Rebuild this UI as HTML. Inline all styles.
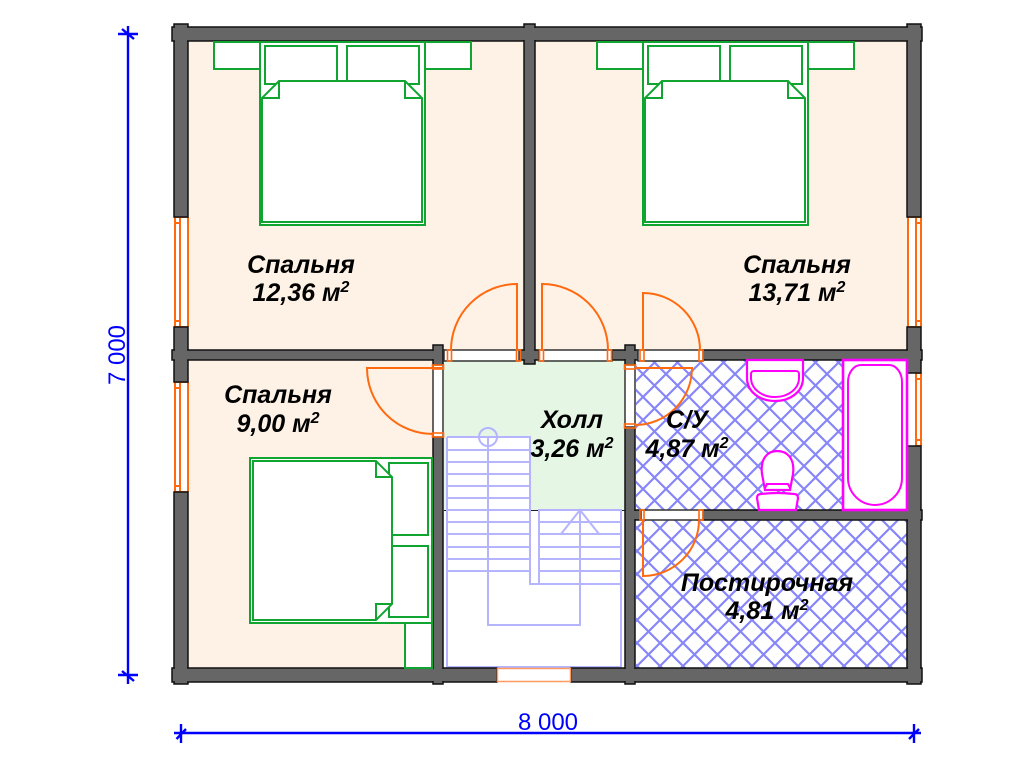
<!DOCTYPE html>
<html><head><meta charset="utf-8"><style>
html,body{margin:0;padding:0;background:#fff}
svg{display:block}
text{font-family:"Liberation Sans",sans-serif}
.l{font-weight:bold;font-style:italic;font-size:25px;fill:#000;text-anchor:middle}
.s{font-size:16px}
.w{fill:#666;stroke:#111;stroke-width:1.5}
.o{fill:none;stroke:#ff6a10;stroke-width:2}
.j{fill:none;stroke:#ff6a10;stroke-width:1.6}
.g{fill:#fff;stroke:#10a530;stroke-width:2}
.g1{fill:none;stroke:#10a530;stroke-width:2}
.m{fill:#fff;stroke:#ff00ff;stroke-width:2.2}
.m1{fill:none;stroke:#ff00ff;stroke-width:2}
.st{fill:none;stroke:#b4b4ff;stroke-width:2}
.d{stroke:#0000ff;stroke-width:2.4;fill:none}
.t{fill:#0000ff;font-size:24px;text-anchor:middle}
.op{fill:#fff;stroke:#333;stroke-width:1.5}
</style></head><body>
<svg width="1024" height="768" viewBox="0 0 1024 768" xmlns="http://www.w3.org/2000/svg">
<defs>
<pattern id="h" width="23" height="23" patternUnits="userSpaceOnUse" x="827" y="374">
<path d="M-3 -3L26 26M26 -3L-3 26M-3 3L3 -3M20 26L26 20M20 -3L26 3M-3 20L3 26" stroke="#8686f8" stroke-width="2.2" fill="none"/>
</pattern>
<pattern id="h2" width="23" height="23" patternUnits="userSpaceOnUse" x="660" y="643">
<path d="M-3 -3L26 26M26 -3L-3 26M-3 3L3 -3M20 26L26 20M20 -3L26 3M-3 20L3 26" stroke="#8686f8" stroke-width="2.2" fill="none"/>
</pattern>
</defs>
<rect width="1024" height="768" fill="#fff"/>

<!-- rooms -->
<rect x="188" y="41" width="336" height="309" fill="#fef2e6"/>
<rect x="535" y="41" width="372" height="309" fill="#fef2e6"/>
<rect x="188" y="360" width="245" height="308" fill="#fef2e6"/>
<rect x="444" y="360" width="181" height="150" fill="#e5f6e5"/>
<rect x="444" y="510" width="181" height="158" fill="#fff"/>
<rect x="636" y="360" width="271" height="150" fill="#fff"/>
<rect x="636" y="360" width="271" height="150" fill="url(#h)"/>
<rect x="636" y="520" width="271" height="148" fill="#fff"/>
<rect x="636" y="520" width="271" height="148" fill="url(#h2)"/>

<!-- stairs -->
<rect x="447" y="437" width="83" height="74" fill="#fff"/>
<rect x="447" y="510" width="174" height="157" fill="#fff"/>
<line x1="444" y1="510.500" x2="625" y2="510.500" stroke="#222" stroke-width="1"/>
<g class="st">
<path d="M447 437H530V584H621M447 437V667H621V510H539V584"/>
<path d="M447 450H530M447 462H530M447 474H530M447 486H530M447 498H530M447 510H530M447 522H530M447 534H530M447 547H530M447 559H530M447 571H530"/>
<path d="M539 522H621M539 534H621M539 547H621M539 559H621M539 571H621"/>
<circle cx="488" cy="437" r="9"/>
<path d="M488 437V625H580V510M561 534L580 510L599 534"/>
</g>

<!-- windows -->
<rect x="174" y="217" width="14" height="110" fill="#fff"/>
<rect x="174" y="382" width="14" height="110" fill="#fff"/>
<rect x="907" y="217" width="14" height="110" fill="#fff"/>
<rect x="907" y="373" width="14" height="73" fill="#fff"/>
<path class="o" d="M175 217V327M180 217V327M188 217V327M174 217H188M174 327H188M174 223H180M174 321H180"/>
<path class="o" d="M175 382V492M180 382V492M188 382V492M174 382H188M174 492H188M174 388H180M174 486H180"/>
<path class="o" d="M908 217V327M916 217V327M921 217V327M907 217H921M907 327H921M916 223H921M916 321H921"/>
<path class="o" d="M916 373V446M921 373V446M915 373H921M915 446H921M916 379H921M916 440H921"/>

<!-- walls -->
<rect class="w" x="174" y="24" width="14" height="193"/>
<rect class="w" x="907" y="24" width="14" height="193"/>
<rect class="w" x="174" y="327" width="14" height="55"/>
<rect class="w" x="907" y="327" width="14" height="46"/>
<rect class="w" x="174" y="492" width="14" height="192"/>
<rect class="w" x="907" y="446" width="14" height="238"/>
<rect class="w" x="172" y="27" width="750" height="14"/>
<rect class="w" x="172" y="668" width="325" height="14"/>
<rect class="w" x="571" y="668" width="351" height="14"/>
<rect class="w" x="172" y="350" width="272" height="10"/>
<rect class="w" x="612" y="350" width="26" height="10"/>
<rect class="w" x="703" y="350" width="219" height="10"/>
<rect class="w" x="630" y="510" width="11" height="10"/>
<rect class="w" x="703" y="510" width="219" height="10"/>
<rect class="w" x="524" y="24" width="11" height="340"/>
<rect class="w" x="519" y="350" width="20" height="10"/>
<rect class="w" x="433" y="345" width="10" height="20"/>
<rect class="w" x="625" y="345" width="10" height="20"/>
<rect class="w" x="433" y="437" width="10" height="247"/>
<rect class="w" x="625" y="427" width="10" height="257"/>

<!-- wall fills to hide inner joints -->
<g fill="#666">
<rect x="175" y="28" width="745" height="12"/>
<rect x="175" y="25" width="12" height="191"/>
<rect x="908" y="25" width="12" height="191"/>
<rect x="525" y="25" width="9" height="338"/>
<rect x="175" y="351" width="267" height="8"/>
<rect x="175" y="328" width="12" height="53"/>
<rect x="908" y="328" width="12" height="44"/>
<rect x="908" y="351" width="13" height="8"/>
<rect x="908" y="511" width="13" height="8"/>
<rect x="175" y="669" width="321" height="12"/>
<rect x="572" y="669" width="349" height="12"/>
<rect x="175" y="493" width="12" height="190"/>
<rect x="908" y="447" width="12" height="236"/>
<rect x="520" y="351" width="18" height="8"/>
<rect x="434" y="346" width="8" height="18"/>
<rect x="626" y="346" width="8" height="18"/>
<rect x="613" y="351" width="24" height="8"/>
<rect x="434" y="438" width="8" height="245"/>
<rect x="626" y="428" width="8" height="255"/>
<rect x="626" y="511" width="14" height="8"/>
</g>

<!-- furniture green (over walls edge) -->
<rect class="g" x="214" y="42" width="46" height="27"/>
<rect class="g" x="425" y="42" width="46" height="27"/>
<rect class="g" x="260" y="42" width="165" height="183"/>
<rect class="g" x="265" y="46" width="72" height="38"/>
<rect class="g" x="347" y="46" width="72" height="38"/>
<path class="g" d="M279 81H405L422 98V222H262V98Z"/>
<path class="g1" d="M262 98H279V81M422 98H405V81"/>
<rect class="g" x="597" y="42" width="46" height="27"/>
<rect class="g" x="808" y="42" width="46" height="27"/>
<rect class="g" x="643" y="42" width="165" height="183"/>
<rect class="g" x="648" y="46" width="72" height="38"/>
<rect class="g" x="730" y="46" width="72" height="38"/>
<path class="g" d="M662 81H788L805 98V222H645V98Z"/>
<path class="g1" d="M645 98H662V81M805 98H788V81"/>
<rect class="g" x="250" y="458" width="182" height="165"/>
<rect class="g" x="405" y="623" width="27" height="45"/>
<rect class="g" x="389" y="463" width="39" height="72"/>
<rect class="g" x="389" y="546" width="39" height="71"/>
<path class="g" d="M253 461H376L392 477V604L376 620H253Z"/>
<path class="g1" d="M376 461V477H392M376 620V604H392"/>

<!-- sanitary -->
<rect class="m" x="843" y="360" width="64" height="150" stroke-width="2.600" style="stroke-width:2.600"/>
<path class="m1" d="M848 382a13 17 0 0 1 13-17H889a13 17 0 0 1 13 17V478a27 27 0 0 1-54 0Z"/>
<path class="m" d="M747 360H803V378C803 392 790 401 775 401C760 401 747 392 747 378Z"/>
<path class="m1" d="M751 374a3 3 0 0 1 3-3H796a3 3 0 0 1 3 3V378C799 389 788 397 775 397C762 397 751 389 751 378Z"/>
<path class="m" d="M765 490L762 474C760 458 768 451 777 451C787 451 795 458 793 474L790 490Z"/>
<path class="m1" d="M765 488L767 484H788L790 488"/>
<path class="m" d="M759 510L757 498Q757 494 761 494Q777 492 794 494Q798 494 798 498L796 510Z"/>

<!-- door openings -->
<rect class="op" x="444" y="350" width="75" height="11"/>
<rect class="op" x="539" y="350" width="73" height="11"/>
<rect class="op" x="638" y="350" width="65" height="11"/>
<rect class="op" x="641" y="510" width="62" height="10"/>
<rect class="op" x="433" y="365" width="10" height="72"/>
<rect class="op" x="625" y="365" width="10" height="62"/>
<g class="o">
<path d="M517 350V284A66 66 0 0 0 451 350"/>
<path d="M542 350V284A66 66 0 0 1 608 350"/>
<path d="M643 350V293A57 57 0 0 1 700 350"/>
<path d="M443 368H367A66 66 0 0 0 433 434"/>
<path d="M636 368H692A57 57 0 0 1 636 425"/>
<path d="M643 520V576A56 56 0 0 0 699 520"/>
</g>
<g class="j">
<rect x="447.500" y="350" width="4" height="11"/>
<rect x="516.500" y="350" width="4" height="11"/>
<rect x="539.500" y="350" width="4" height="11"/>
<rect x="607.500" y="350" width="4" height="11"/>
<rect x="640" y="350" width="4" height="11"/>
<rect x="699" y="350" width="4" height="11"/>
<rect x="640" y="510" width="4" height="10"/>
<rect x="699" y="510" width="4" height="10"/>
<rect x="432.500" y="365" width="11" height="4"/>
<rect x="432.500" y="433" width="11" height="4"/>
<rect x="624.500" y="365" width="11" height="4"/>
<rect x="624.500" y="424" width="11" height="4"/>
</g>
<rect x="497" y="668" width="74" height="14" fill="#fff"/>
<path d="M497 668.500H571M497 681.500H571M497.500 668V682M570.500 668V682" fill="none" stroke="#ff9a60" stroke-width="1.500"/>

<!-- labels -->
<text class="l" x="301" y="273">Спальня</text>
<text class="l" x="301" y="301">12,36 м<tspan class="s" dy="-9">2</tspan></text>
<text class="l" x="797" y="273">Спальня</text>
<text class="l" x="797" y="301">13,71 м<tspan class="s" dy="-9">2</tspan></text>
<text class="l" x="278" y="403">Спальня</text>
<text class="l" x="278" y="432">9,00 м<tspan class="s" dy="-9">2</tspan></text>
<text class="l" x="572" y="428">Холл</text>
<text class="l" x="572" y="457">3,26 м<tspan class="s" dy="-9">2</tspan></text>
<text class="l" x="687" y="428">С/У</text>
<text class="l" x="687" y="457">4,87 м<tspan class="s" dy="-9">2</tspan></text>
<text class="l" x="767" y="591">Постирочная</text>
<text class="l" x="767" y="619">4,81 м<tspan class="s" dy="-9">2</tspan></text>

<!-- dimensions -->
<g class="d">
<path d="M128 26V684M118 34H138M122 29L134 39M118 675H138M122 671L134 681"/>
<path d="M174 733H921M181 724V743M176.500 739L186 729M914 724V743M909 739L919 729"/>
</g>
<text class="t" x="548" y="730">8 000</text>
<text class="t" transform="translate(125 355) rotate(-90)">7 000</text>
</svg>
</body></html>
